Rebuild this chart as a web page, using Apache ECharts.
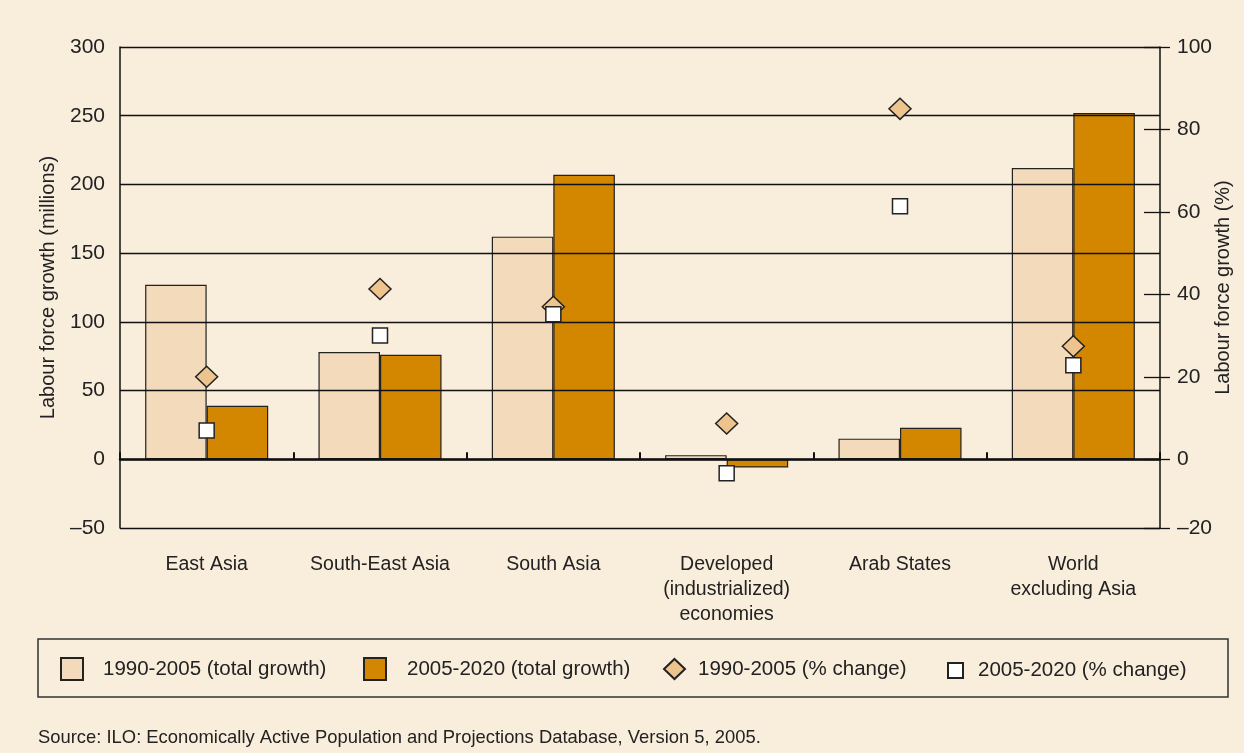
<!DOCTYPE html>
<html>
<head>
<meta charset="utf-8">
<script src="https://cdn.jsdelivr.net/npm/echarts@6/dist/echarts.min.js"></script>
<style>
  html, body { margin: 0; padding: 0; background: #f9eddc; }
  #chart { width: 1244px; height: 753px; }
</style>
</head>
<body>
<div id="chart"></div>
<script>
// Regions shown along the horizontal axis
const categories = ['East Asia', 'South-East Asia', 'South Asia',
  'Developed\n(industrialized)\neconomies', 'Arab States', 'World\nexcluding Asia'];

// Labour force growth, millions
const total1990_2005 = [127, 78, 162, 3, 15, 212];
const total2005_2020 = [39, 76, 207, -6, 23, 252];

// Labour force growth, percent
const pct1990_2005 = [20, 41.3, 37, 8.7, 85, 27.4];
const pct2005_2020 = [7, 30, 35.2, -3.4, 61.4, 22.8];

// Tick labels
const leftTicks = [-50, 0, 50, 100, 150, 200, 250, 300];
const rightTicks = [-100 / 6, 0, 20, 40, 60, 80, 100];

const seriesNames = ['1990-2005 (total growth)', '2005-2020 (total growth)',
  '1990-2005 (% change)', '2005-2020 (% change)'];

const FONT = '"Liberation Sans", Arial, sans-serif';
const INK = '#222';

const chart = echarts.init(document.getElementById('chart'));

function legendText(pad) {
  return { fontFamily: FONT, fontSize: 20.5, color: INK, padding: [0, 0, 0, pad] };
}

const legendBase = {
  orient: 'horizontal',
  top: 657,
  padding: 0,
  selectedMode: false
};

chart.setOption({
  backgroundColor: '#f9eddc',
  animation: false,
  textStyle: { fontFamily: FONT },
  grid: { left: 120, right: 84, top: 47, bottom: 225, containLabel: false, outerBoundsMode: 'none' },
  graphic: [
    {
      type: 'rect',
      shape: { x: 38, y: 639, width: 1190, height: 58 },
      style: { fill: 'none', stroke: '#333', lineWidth: 1.5 },
      silent: true
    },
    {
      type: 'text',
      left: 38,
      top: 729,
      style: {
        text: 'Source: ILO: Economically Active Population and Projections Database, Version 5, 2005.',
        font: '18.4px ' + FONT,
        fill: INK
      },
      silent: true
    }
  ],
  legend: [
    Object.assign({}, legendBase, { left: 60, data: [{ name: seriesNames[0], icon: 'rect' }],
      itemWidth: 22, itemHeight: 22, textStyle: legendText(15) }),
    Object.assign({}, legendBase, { left: 363, data: [{ name: seriesNames[1], icon: 'rect' }],
      itemWidth: 22, itemHeight: 22, textStyle: legendText(16) }),
    Object.assign({}, legendBase, { left: 663, top: 658, data: [seriesNames[2]],
      itemWidth: 21, itemHeight: 20, textStyle: legendText(8) }),
    Object.assign({}, legendBase, { left: 947, top: 660, data: [seriesNames[3]],
      itemWidth: 15, itemHeight: 15, textStyle: legendText(10) })
  ],
  xAxis: [
    {
      // category labels below the plot
      type: 'category',
      data: categories,
      position: 'bottom',
      axisLine: { show: false, onZero: false },
      axisTick: { show: false },
      axisLabel: { fontSize: 19.5, color: INK, margin: 24, lineHeight: 25, interval: 0 }
    },
    {
      // zero line with category separators
      type: 'category',
      data: categories,
      position: 'bottom',
      z: 4,
      axisLine: { show: true, onZero: true, onZeroAxisIndex: 0, lineStyle: { color: '#111', width: 2.5 } },
      axisTick: { show: true, inside: true, length: 7, interval: 0, lineStyle: { color: '#111', width: 2 } },
      axisLabel: { show: false }
    }
  ],
  yAxis: [
    {
      type: 'value',
      min: leftTicks[0],
      max: leftTicks[leftTicks.length - 1],
      interval: 50,
      z: 3,
      name: 'Labour force growth (millions)',
      nameLocation: 'middle',
      nameGap: 62,
      nameMoveOverlap: false,
      nameTextStyle: { fontSize: 20, color: INK },
      axisLine: { show: true, lineStyle: { color: '#111', width: 1.5 } },
      axisTick: { show: false },
      axisLabel: {
        fontSize: 21, color: INK, margin: 15,
        formatter: v => (v < 0 ? '\u2013' + Math.abs(v) : String(v))
      },
      splitLine: { show: true, lineStyle: { color: '#111', width: 1.3 } }
    },
    {
      type: 'value',
      position: 'right',
      min: -100 / 6,
      max: 100,
      z: 3,
      name: 'Labour force growth (%)',
      nameLocation: 'middle',
      nameGap: 53,
      nameMoveOverlap: false,
      nameTextStyle: { fontSize: 20, color: INK },
      axisLine: { show: true, lineStyle: { color: '#111', width: 1.5 } },
      axisTick: { show: true, length: 10, customValues: rightTicks, lineStyle: { color: '#111', width: 1.3 } },
      axisLabel: {
        fontSize: 21, color: INK, margin: 17,
        customValues: rightTicks,
        formatter: v => (v < 0 ? '\u201320' : String(Math.round(v)))
      },
      splitLine: { show: false }
    },
    {
      // inner half of the right-hand tick marks
      type: 'value',
      position: 'right',
      min: -100 / 6,
      max: 100,
      z: 3,
      axisLine: { show: false },
      axisTick: { show: true, inside: true, length: 16, customValues: rightTicks, lineStyle: { color: '#111', width: 1.3 } },
      axisLabel: { show: false },
      splitLine: { show: false }
    }
  ],
  series: [
    {
      name: seriesNames[0],
      type: 'bar',
      data: total1990_2005,
      barGap: '0%',
      barCategoryGap: '29%',
      itemStyle: { color: '#f3dabb', borderColor: '#222', borderWidth: 1.2 }
    },
    {
      name: seriesNames[1],
      type: 'bar',
      data: total2005_2020,
      itemStyle: { color: '#d38700', borderColor: '#222', borderWidth: 1.2 }
    },
    {
      name: seriesNames[2],
      type: 'scatter',
      yAxisIndex: 1,
      symbol: 'diamond',
      symbolSize: [22, 21],
      z: 6,
      data: pct1990_2005,
      itemStyle: { color: '#edc48e', borderColor: '#222', borderWidth: 1.5, opacity: 1 }
    },
    {
      name: seriesNames[3],
      type: 'scatter',
      yAxisIndex: 1,
      symbol: 'rect',
      symbolSize: 15,
      z: 7,
      data: pct2005_2020,
      itemStyle: { color: '#ffffff', borderColor: '#222', borderWidth: 1.5, opacity: 1 }
    }
  ]
});
</script>
</body>
</html>
